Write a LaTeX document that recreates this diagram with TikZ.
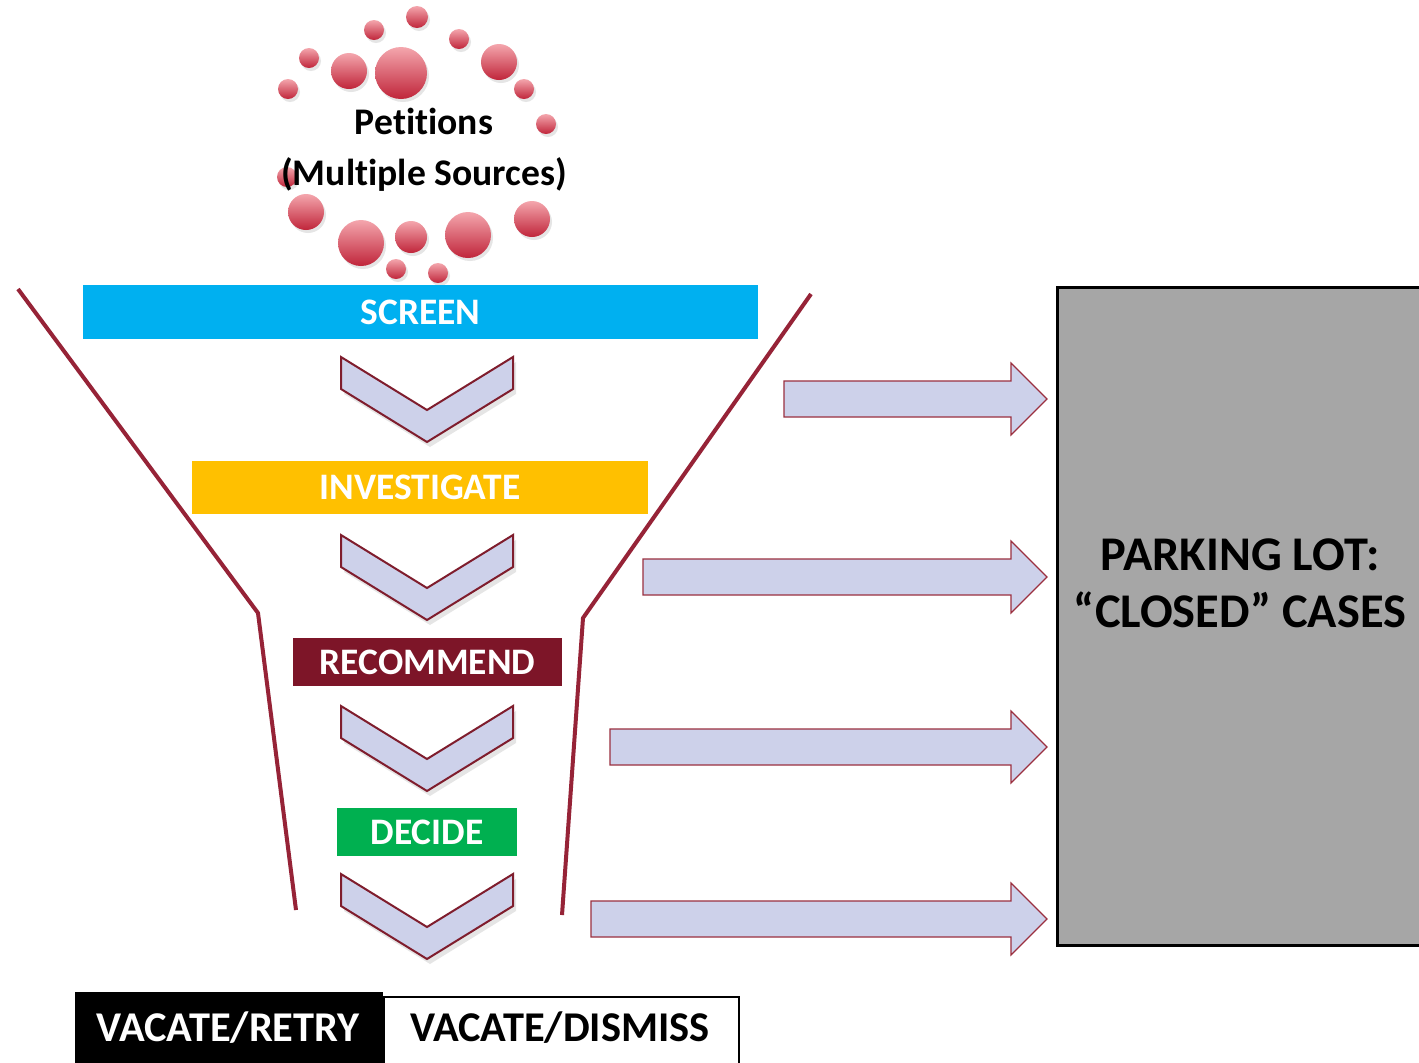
\documentclass[tikz,border=0pt]{standalone}
\usepackage{fontspec}
\setmainfont{Carlito}[Ligatures=NoCommon]
\usetikzlibrary{shadows}
\definecolor{screenblue}{HTML}{00B0F0}
\definecolor{invyellow}{HTML}{FFC000}
\definecolor{recred}{RGB}{125,21,40}
\definecolor{decgreen}{HTML}{00B050}
\definecolor{funnelred}{RGB}{150,35,55}
\definecolor{chevfill}{HTML}{CDD1EA}
\definecolor{chevline}{RGB}{127,29,45}
\definecolor{arrline}{RGB}{155,48,64}
\definecolor{lotgray}{HTML}{A6A6A6}
\definecolor{bubtop}{HTML}{F4A6AD}
\definecolor{bubbot}{HTML}{C0253A}
\tikzset{
  bar/.style={inner sep=0pt, text=white, font=\fontsize{18.7}{22}\selectfont\bfseries},
  funnel/.style={draw=funnelred, line width=2pt},
  chevshape/.style={draw=chevline, line width=1pt, fill=chevfill, line join=miter,
    drop shadow={opacity=0.2, shadow xshift=1.5pt, shadow yshift=-2.5pt}},
  blockarrow/.style={draw=arrline, line width=0.6pt, fill=chevfill},
  bubble/.style={top color=bubtop, bottom color=bubbot,
    drop shadow={opacity=0.2, shadow xshift=1pt, shadow yshift=-1.5pt}},
  chevron/.pic={\path[chevshape] (-86,0) -- (0,53) -- (86,0) -- (86,32) -- (0,85) -- (-86,32) -- cycle;},
  bigtext/.style={font=\fontsize{24.2}{28.5}\selectfont\bfseries, align=center},
  outtext/.style={font=\fontsize{21.2}{24}\selectfont\bfseries}
}
\begin{document}
\begin{tikzpicture}[x=0.5pt,y=-0.5pt]
\useasboundingbox (0,0) rectangle (1419,1062);
\clip (0,0) rectangle (1419,1062);
\fill[white] (0,0) rectangle (1419,1062);

% bubbles
\foreach \bx/\by/\br in {417/17/11, 374/30/10, 459/39/10, 309/58/10, 349/71/18, 401/73/26,
  499/62/18, 288/89/10, 524/89/10, 546/124/10, 287/177/10, 306/212/18, 361/243/23,
  411/237/16, 468/235/23, 532/219/18, 396/269/10, 438/273/10}
  {\path[bubble] (\bx,\by) circle (\br);}
\node[align=center, font=\fontsize{18.8}{25.5}\selectfont\bfseries] (petitions) at (424,150) {Petitions\\(Multiple Sources)};

% funnel
\draw[funnel] (18,289) -- (258,613) -- (296,910);
\draw[funnel] (811,294) -- (583,618) -- (562,915);

% stage bars
\node[bar, fill=screenblue, minimum width=337.5pt, minimum height=27pt] (screen) at (420.5,312) {SCREEN};
\node[bar, fill=invyellow, minimum width=228pt, minimum height=26.5pt] (investigate) at (420,487.5) {INVESTIGATE};
\node[bar, fill=recred, minimum width=134.5pt, minimum height=24pt] (recommend) at (427.5,662) {RECOMMEND};
\node[bar, fill=decgreen, minimum width=90pt, minimum height=24pt] (decide) at (427,832) {DECIDE};

% chevrons
\pic at (427,357) {chevron};
\pic at (427,535) {chevron};
\pic at (427,706) {chevron};
\pic at (427,874) {chevron};

% block arrows
\foreach \L/\C in {784/399, 643/577, 610/747, 591/919}
  {\path[blockarrow] (\L,\C-18) -- (1011,\C-18) -- (1011,\C-36) -- (1047,\C) -- (1011,\C+36) -- (1011,\C+18) -- (\L,\C+18) -- cycle;}

% parking lot
\node[draw=black, line width=1.3pt, fill=lotgray, minimum width=184pt, minimum height=329pt, anchor=north west, inner sep=0pt] (lot) at (1056,286) {};
\node[bigtext] (lottext) at (1240,583) {PARKING LOT:\\“CLOSED” CASES};

% outcomes
\node[fill=black, minimum width=154pt, minimum height=40pt, anchor=north west, inner sep=0pt] (retrybox) at (75,992) {};
\node[draw=black, line width=1pt, fill=white, minimum width=177.5pt, minimum height=40pt, anchor=north west, inner sep=0pt] (dismissbox) at (383,996) {};
\node[outtext, text=white] (retry) at (228,1028) {VACATE/RETRY};
\node[outtext] (dismiss) at (560,1028) {VACATE/DISMISS};
\end{tikzpicture}
\end{document}
